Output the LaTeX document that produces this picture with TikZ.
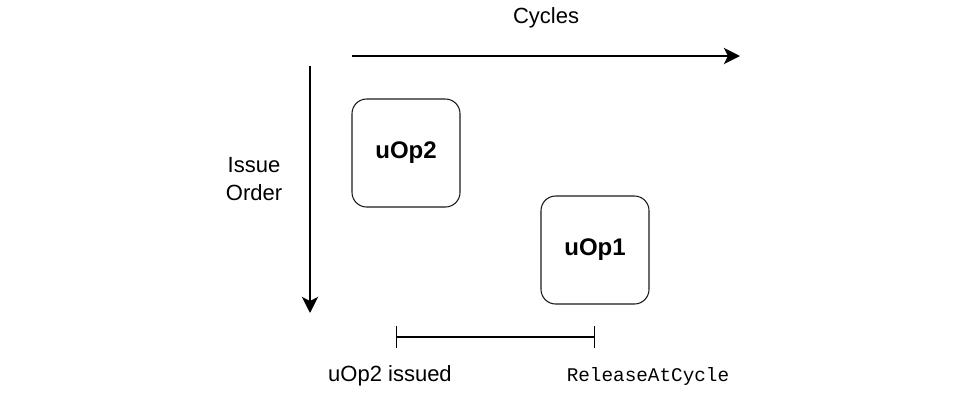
\documentclass[tikz,border=0pt]{standalone}
\usepackage{fontspec}
\setmainfont{Liberation Sans}
\setmonofont{Liberation Mono}
\usepackage{xcolor}
\usetikzlibrary{positioning, arrows.meta}
\definecolor{boxline}{HTML}{1A1A1A}

\begin{document}
\begin{tikzpicture}[x=0.75pt, y=-0.75pt,
    uopbox/.style={draw=boxline, line width=0.8pt, rounded corners=11pt,
          minimum width=81pt, minimum height=81pt, font=\fontsize{18}{21}\selectfont\bfseries},
    axis/.style={line width=2.2pt, -{Stealth[length=12pt, width=12pt, inset=3pt]}},
    lbl/.style={font=\fontsize{16.5}{21}\selectfont, align=center}]
    \useasboundingbox (0,0) rectangle (973,401);
    % axes
    \coordinate (cycstart) at (352,56);
    \coordinate (cycend) at (740,56);
    \coordinate (ordstart) at (310,66);
    \coordinate (ordend) at (310,313);
    \draw[axis] (cycstart) -- (cycend);
    \draw[axis] (ordstart) -- (ordend);
    \node[lbl] (cycles) at (546,18) {Cycles};
    \node[lbl] (order) at (254,179) {Issue\\Order};
    % micro-ops
    \node[uopbox] (uop2) at (406,153) {uOp2};
    \node[uopbox] (uop1) at (595,250) {uOp1};
    % interval
    \coordinate (issued) at (396,337);
    \coordinate (release) at (595,337);
    \draw[line width=0.8pt, {Bar[width=16pt]}-{Bar[width=16pt]}] (issued) -- (release);
    \node[lbl] (issuedlbl) at (390,376) {uOp2 issued};
    \node[font=\fontsize{14.5}{18}\ttfamily] (releaselbl) at (648,376) {ReleaseAtCycle};
  \end{tikzpicture}
\end{document}
